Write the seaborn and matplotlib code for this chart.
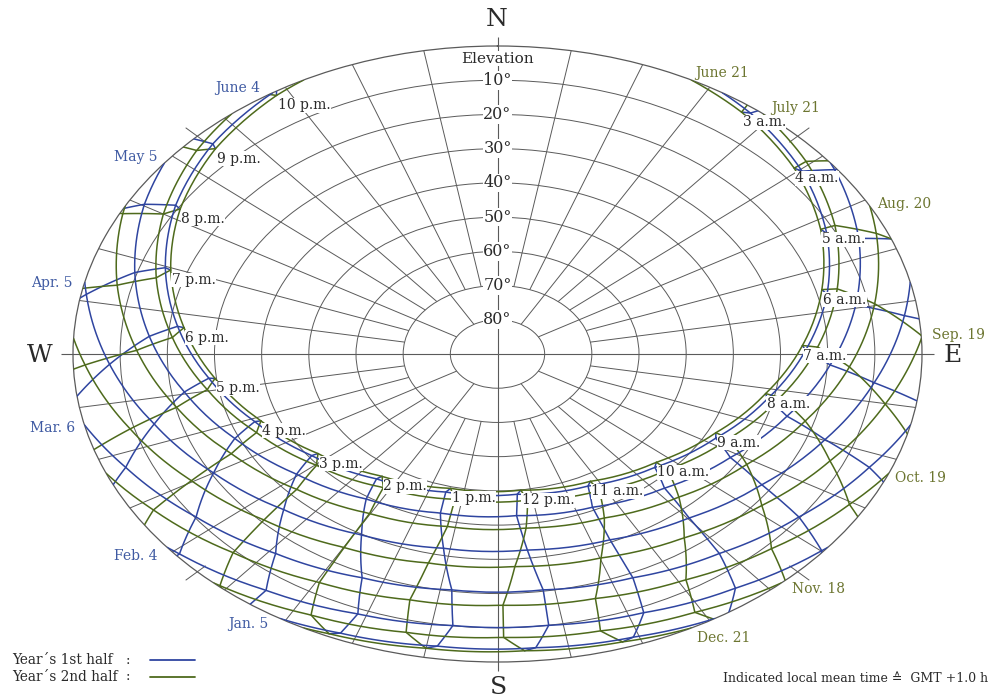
import numpy as np
import pandas as pd
import matplotlib
matplotlib.use("Agg")
import matplotlib.pyplot as plt
from matplotlib.lines import Line2D
import seaborn as sns

# Sun positions per date: azimuth (deg, clockwise from north) and elevation (deg)
# at every full hour of local mean time, starting at *_FIRST_HOUR.
# Negative elevations are the hour just before sunrise / after sunset.
JAN5_FIRST_HOUR = 9
JAN5_AZ = [134.1, 147.3, 160.8, 174.6, 188.5, 202.2, 215.7, 228.8]
JAN5_EL = [-4.8, -0.5, 2.4, 3.8, 3.7, 1.9, -1.3, -5.8]
JAN5_RISE_SET = (149.2, 210.8)

FEB4_FIRST_HOUR = 8
FEB4_AZ = [116.6, 129.9, 143.6, 157.7, 172.2, 186.8, 201.3, 215.4, 229.1, 242.4]
FEB4_EL = [-5.2, 0.4, 5.0, 8.3, 10.0, 10.1, 8.5, 5.3, 0.8, -4.8]
FEB4_RISE_SET = (128.9, 231.1)

MAR6_FIRST_HOUR = 6
MAR6_AZ = [85.9, 99.3, 112.8, 126.7, 141.1, 156.3, 172.0, 188.0, 203.7, 218.9,
           233.3, 247.2, 260.7, 274.1]
MAR6_EL = [-8.6, -1.9, 4.5, 10.3, 15.1, 18.6, 20.4, 20.4, 18.6, 15.1, 10.3, 4.5,
           -1.9, -8.6]
MAR6_RISE_SET = (103.3, 256.7)

APR5_FIRST_HOUR = 4
APR5_AZ = [55.3, 69.1, 82.6, 96.0, 109.8, 124.3, 139.7, 156.3, 173.7, 191.4,
           208.6, 224.9, 240.0, 254.3, 267.9, 281.3, 294.8]
APR5_EL = [-9.4, -3.5, 3.0, 9.7, 16.2, 22.2, 27.2, 30.7, 32.4, 32.1, 29.8, 25.8,
           20.5, 14.4, 7.7, 1.1, -5.3]
APR5_RISE_SET = (76.5, 283.5)

MAY5_FIRST_HOUR = 3
MAY5_AZ = [39.4, 53.0, 66.2, 79.3, 92.6, 106.5, 121.5, 137.9, 155.8, 175.1,
           194.6, 213.3, 230.5, 246.1, 260.5, 274.0, 287.2, 300.3, 313.7]
MAY5_EL = [-4.3, 0.5, 6.3, 12.7, 19.4, 26.0, 32.1, 37.2, 40.9, 42.6, 42.0, 39.3,
           34.8, 29.1, 22.7, 16.0, 9.5, 3.3, -2.0]
MAY5_RISE_SET = (51.7, 308.3)

JUN4_FIRST_HOUR = 3
JUN4_AZ = [37.3, 50.4, 63.2, 76.0, 89.1, 102.9, 118.0, 134.8, 153.6, 174.2,
           195.2, 215.1, 233.0, 249.0, 263.4, 276.8, 289.7, 302.5, 315.5, 328.7]
JUN4_EL = [1.5, 6.2, 11.8, 18.0, 24.7, 31.3, 37.6, 43.0, 46.9, 48.8, 48.2, 45.4,
           40.7, 34.9, 28.4, 21.7, 15.2, 9.1, 3.9, -0.2]
JUN4_RISE_SET = (32.0, 328.0)

JUN21_FIRST_HOUR = 3
JUN21_AZ = [36.2, 49.2, 62.0, 74.7, 87.8, 101.5, 116.4, 133.2, 152.1, 172.9,
            194.2, 214.4, 232.6, 248.7, 263.2, 276.6, 289.5, 302.2, 315.1, 328.2]
JUN21_EL = [2.4, 6.9, 12.4, 18.7, 25.3, 32.0, 38.3, 43.8, 47.9, 49.9, 49.5, 46.7,
            42.1, 36.2, 29.7, 23.1, 16.5, 10.5, 5.3, 1.1]
JUN21_RISE_SET = (27.2, 332.8)

JUL21_FIRST_HOUR = 3
JUL21_AZ = [36.0, 49.3, 62.3, 75.2, 88.3, 102.0, 116.8, 133.2, 151.6, 171.5,
            192.0, 211.8, 229.7, 245.8, 260.4, 274.0, 287.1, 300.0, 313.0, 326.4]
JUL21_EL = [-0.9, 3.7, 9.2, 15.5, 22.1, 28.8, 35.1, 40.6, 44.6, 46.8, 46.6, 44.1,
            39.7, 34.0, 27.6, 20.9, 14.3, 8.2, 2.8, -1.5]
JUL21_RISE_SET = (38.8, 321.2)

AUG20_FIRST_HOUR = 4
AUG20_AZ = [52.9, 66.3, 79.6, 92.9, 106.7, 121.4, 137.4, 154.7, 173.2, 191.9,
            210.2, 227.1, 242.7, 257.1, 270.8, 284.0, 297.3, 310.9]
AUG20_EL = [-3.5, 2.3, 8.7, 15.3, 21.9, 28.1, 33.2, 37.0, 38.8, 38.5, 36.1, 31.9,
            26.5, 20.2, 13.5, 6.9, 0.6, -4.9]
AUG20_RISE_SET = (61.3, 298.7)

SEP19_FIRST_HOUR = 5
SEP19_AZ = [73.2, 86.7, 100.1, 113.9, 128.3, 143.6, 159.8, 176.6, 193.5, 209.9,
            225.6, 240.3, 254.3, 267.9, 281.3, 295.0]
SEP19_EL = [-6.8, -0.2, 6.5, 12.9, 18.6, 23.3, 26.5, 27.8, 27.2, 24.8, 20.7, 15.3,
            9.1, 2.5, -4.1, -10.5]
SEP19_RISE_SET = (87.1, 272.9)

OCT19_FIRST_HOUR = 7
OCT19_AZ = [107.1, 120.5, 134.4, 148.8, 163.8, 179.1, 194.5, 209.5, 224.0, 238.0,
            251.4, 264.7]
OCT19_EL = [-2.7, 3.4, 8.7, 12.9, 15.6, 16.6, 15.8, 13.3, 9.3, 4.0, -2.0, -8.6]
OCT19_RISE_SET = (112.8, 247.2)

NOV18_FIRST_HOUR = 8
NOV18_AZ = [124.1, 137.4, 151.0, 164.9, 179.1, 193.4, 207.4, 221.0, 234.3]
NOV18_EL = [-5.3, -0.2, 3.7, 6.2, 7.2, 6.4, 4.1, 0.3, -4.6]
NOV18_RISE_SET = (138.0, 222.0)

DEC21_FIRST_HOUR = 10
DEC21_AZ = [149.0, 162.5, 176.2, 190.0, 203.6, 217.0]
DEC21_EL = [-0.9, 1.8, 3.1, 2.7, 0.8, -2.6]
DEC21_RISE_SET = (152.8, 207.2)

FIRST_HALF = ["Jan. 5", "Feb. 4", "Mar. 6", "Apr. 5", "May 5", "June 4", "June 21"]
SECOND_HALF = ["June 21", "July 21", "Aug. 20", "Sep. 19", "Oct. 19", "Nov. 18", "Dec. 21"]

HOURS = list(range(3, 23))
HOUR_LABELS = ["3 a.m.", "4 a.m.", "5 a.m.", "6 a.m.", "7 a.m.", "8 a.m.", "9 a.m.",
               "10 a.m.", "11 a.m.", "12 p.m.", "1 p.m.", "2 p.m.", "3 p.m.", "4 p.m.",
               "5 p.m.", "6 p.m.", "7 p.m.", "8 p.m.", "9 p.m.", "10 p.m."]
ELEVATION_RINGS = [10, 20, 30, 40, 50, 60, 70, 80]

SERIES = {
    "Jan. 5": (JAN5_FIRST_HOUR, JAN5_AZ, JAN5_EL, JAN5_RISE_SET),
    "Feb. 4": (FEB4_FIRST_HOUR, FEB4_AZ, FEB4_EL, FEB4_RISE_SET),
    "Mar. 6": (MAR6_FIRST_HOUR, MAR6_AZ, MAR6_EL, MAR6_RISE_SET),
    "Apr. 5": (APR5_FIRST_HOUR, APR5_AZ, APR5_EL, APR5_RISE_SET),
    "May 5": (MAY5_FIRST_HOUR, MAY5_AZ, MAY5_EL, MAY5_RISE_SET),
    "June 4": (JUN4_FIRST_HOUR, JUN4_AZ, JUN4_EL, JUN4_RISE_SET),
    "June 21": (JUN21_FIRST_HOUR, JUN21_AZ, JUN21_EL, JUN21_RISE_SET),
    "July 21": (JUL21_FIRST_HOUR, JUL21_AZ, JUL21_EL, JUL21_RISE_SET),
    "Aug. 20": (AUG20_FIRST_HOUR, AUG20_AZ, AUG20_EL, AUG20_RISE_SET),
    "Sep. 19": (SEP19_FIRST_HOUR, SEP19_AZ, SEP19_EL, SEP19_RISE_SET),
    "Oct. 19": (OCT19_FIRST_HOUR, OCT19_AZ, OCT19_EL, OCT19_RISE_SET),
    "Nov. 18": (NOV18_FIRST_HOUR, NOV18_AZ, NOV18_EL, NOV18_RISE_SET),
    "Dec. 21": (DEC21_FIRST_HOUR, DEC21_AZ, DEC21_EL, DEC21_RISE_SET),
}

# ---------------------------------------------------------------- styling
BLUE = "#2f45a0"
GREEN = "#4e6a1c"
BLUE_TXT = "#3f5aa2"
GREEN_TXT = "#6c7530"
GRID = "#5a5a5a"
INK = "#2a2a2a"
PALETTE = {"first": BLUE, "second": GREEN}

# label offsets (pixels) from the horizon point of each date
DATE_LABEL_OFFSETS = {
    "Jan. 5": (-12, -5), "Feb. 4": (-10, -9), "Mar. 6": (-9, -3), "Apr. 5": (-12, -1),
    "May 5": (-7, 6), "June 4": (-12, 5),
    "June 21": (4, 7), "July 21": (8, 6), "Aug. 20": (7, 2), "Sep. 19": (11, 3),
    "Oct. 19": (6, -5), "Nov. 18": (10, -6), "Dec. 21": (5, -10),
}

sns.set_theme(style="white")
plt.rcParams["font.family"] = ["DejaVu Serif", "DejaVu Sans"]

W, H = 992, 698
fig = plt.figure(figsize=(W / 100, H / 100), dpi=100)
fig.patch.set_facecolor("white")


def fx(px):
    return px / W


def fy(py):
    return 1 - py / H


# horizon ellipse: centre and half axes in pixels
CX, CY, RX, RY = 497.5, 354.0, 424.5, 308.0
ax = fig.add_axes([fx(CX - RX), fy(CY + RY), 2 * RX / W, 2 * RY / H], projection="polar")
ax.set_theta_zero_location("N")
ax.set_theta_direction(-1)
ax.set_facecolor("white")

# ---------------------------------------------------------------- data frames
day_rows = []
for half, names in (("first", FIRST_HALF[:-1]), ("second", SECOND_HALF)):
    for name in names:
        first, az, el, (rise, sset) = SERIES[name]
        pts = [(rise, 0.0)] + [(a, e) for a, e in zip(az, el) if e > 0] + [(sset, 0.0)]
        for a, e in pts:
            day_rows.append({"date": name, "half": half,
                             "theta": np.deg2rad(a), "r": 90.0 - e})
day_df = pd.DataFrame(day_rows)

hour_rows = []
for half, seq in (("first", ["Dec. 21"] + FIRST_HALF), ("second", SECOND_HALF)):
    for hour in HOURS:
        for name in seq:
            first, az, el, _ = SERIES[name]
            k = hour - first
            if 0 <= k < len(az):
                hour_rows.append({"line": f"{half}-{hour}", "half": half,
                                  "theta": np.deg2rad(az[k]), "r": 90.0 - el[k]})
hour_df = pd.DataFrame(hour_rows)

# ---------------------------------------------------------------- curves
sns.lineplot(data=hour_df, x="theta", y="r", hue="half", units="line",
             estimator=None, sort=False, palette=PALETTE, legend=False,
             ax=ax, linewidth=1.1, zorder=3)
sns.lineplot(data=day_df, x="theta", y="r", hue="half", units="date",
             estimator=None, sort=False, palette=PALETTE, legend=False,
             ax=ax, linewidth=1.1, zorder=3)
for ln in ax.lines:
    ln.get_path()._interpolation_steps = 24

ax.set_xlabel("")
ax.set_ylabel("")
ax.set_rlim(0, 90)

# ---------------------------------------------------------------- grid
ax.set_xticks([])
ax.set_yticks(ELEVATION_RINGS)
ax.set_yticklabels([])
ax.xaxis.grid(False)
ax.yaxis.grid(True, color=GRID, linewidth=0.7)
ax.set_axisbelow(True)
ax.spines["polar"].set_color(GRID)
ax.spines["polar"].set_linewidth(0.9)

spoke_az = np.array([a for a in range(0, 360, 10) if a % 90 != 0])
spoke_in = np.where(spoke_az % 30 == 0, 10, 20)
ax.vlines(np.deg2rad(spoke_az), spoke_in, 90, colors=GRID, linewidth=0.7, zorder=1)
ax.vlines(np.deg2rad([0, 90, 180, 270]), 0, 92.6, colors=GRID, linewidth=0.8,
          zorder=1, clip_on=False)
ax.vlines(np.deg2rad([45, 135, 225, 315]), 87.5, 93.5, colors=GRID, linewidth=0.7,
          zorder=1, clip_on=False)

# stretch the horizon circle into the wide ellipse of the diagram
ax.set_aspect("auto")
ax.set_position([fx(CX - RX), fy(CY + RY), 2 * RX / W, 2 * RY / H])

white_box = dict(facecolor="white", edgecolor="none", pad=0.6)
for e in ELEVATION_RINGS:
    ax.text(0, 90 - e, f"{e}°", ha="center", va="center", fontsize=11.5,
            color=INK, bbox=white_box, zorder=6)
ax.text(0, 86.3, "Elevation", ha="center", va="center", fontsize=11, color=INK,
        bbox=white_box, zorder=6)

# hour labels next to the midsummer position of each hour
first, az21, el21, _ = SERIES["June 21"]
for hour, lab in zip(HOURS, HOUR_LABELS):
    k = hour - first
    ax.annotate(lab, xy=(np.deg2rad(az21[k]), 90 - el21[k]), xytext=(1, -3),
                textcoords="offset pixels", ha="left", va="top", fontsize=10,
                color=INK, bbox=dict(facecolor="white", edgecolor="none", pad=0.3),
                zorder=7, annotation_clip=False)

# date labels at the horizon crossings
for name in FIRST_HALF[:-1]:
    rise, sset = SERIES[name][3]
    ax.annotate(name, xy=(np.deg2rad(sset), 90), xytext=DATE_LABEL_OFFSETS[name],
                textcoords="offset pixels", ha="right", va="center", fontsize=10,
                color=BLUE_TXT, zorder=7, annotation_clip=False)
for name in SECOND_HALF:
    rise, sset = SERIES[name][3]
    ax.annotate(name, xy=(np.deg2rad(rise), 90), xytext=DATE_LABEL_OFFSETS[name],
                textcoords="offset pixels", ha="left", va="center", fontsize=10,
                color=GREEN_TXT, zorder=7, annotation_clip=False)

# ---------------------------------------------------------------- frame texts
for txt, px, py in (("N", 497, 20), ("S", 498, 687), ("W", 40, 356), ("E", 953, 356)):
    fig.text(fx(px), fy(py), txt, ha="center", va="center", fontsize=18, color=INK)

fig.text(fx(12), fy(660), "Year´s 1st half", ha="left", va="center", fontsize=9.8, color=INK)
fig.text(fx(12), fy(677), "Year´s 2nd half", ha="left", va="center", fontsize=9.8, color=INK)
fig.text(fx(128), fy(660), ":", ha="center", va="center", fontsize=9.5, color=INK)
fig.text(fx(128), fy(677), ":", ha="center", va="center", fontsize=9.5, color=INK)
fig.add_artist(Line2D([fx(150), fx(195)], [fy(660), fy(660)], transform=fig.transFigure,
                      color=BLUE, linewidth=1.3))
fig.add_artist(Line2D([fx(150), fx(195)], [fy(677), fy(677)], transform=fig.transFigure,
                      color=GREEN, linewidth=1.3))
fig.text(fx(988), fy(678), "Indicated local mean time ≙  GMT +1.0 h", ha="right",
         va="center", fontsize=9, color=INK)

fig.savefig("out.png", dpi=100, facecolor="white")
